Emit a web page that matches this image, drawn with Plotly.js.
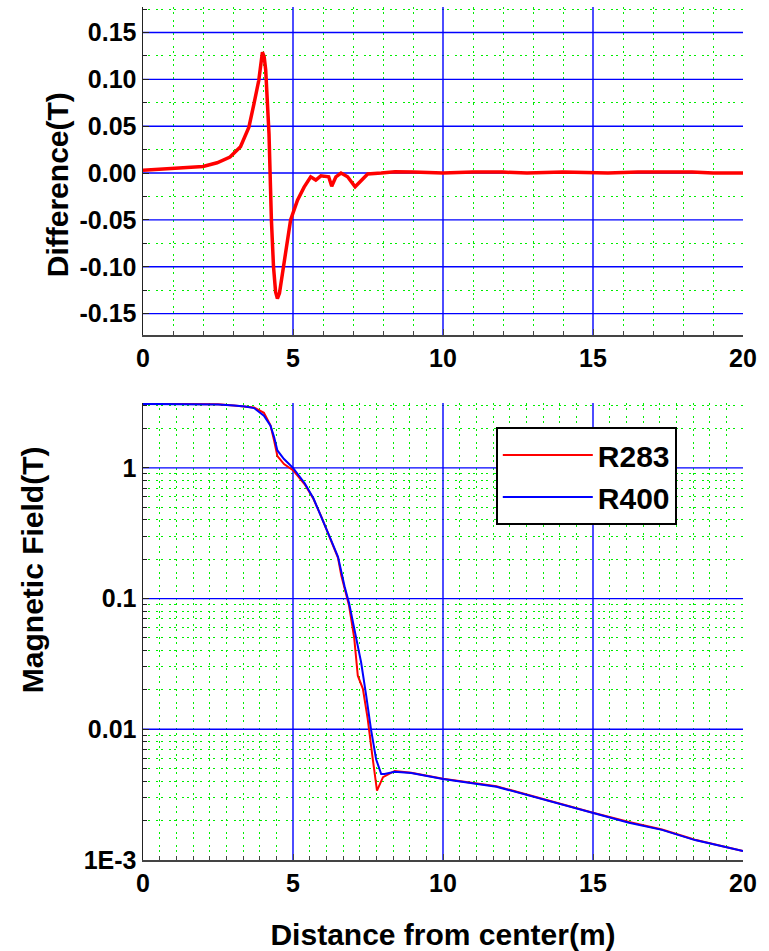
<!DOCTYPE html>
<html>
<head>
<meta charset="utf-8">
<script src="https://cdn.plot.ly/plotly-3.0.1.min.js"></script>
<style>
html,body{margin:0;padding:0;background:#fff;}
#chart{width:769px;height:951px;}
#chart .gridlayer path:not(.minor) { shape-rendering: geometricPrecision !important; }
#chart .gridlayer path.minor { shape-rendering: crispEdges !important; }
</style>
</head>
<body>
<div id="chart"></div>
<script>
// ---- Top panel: difference (T) vs distance (m)
const diffX = [0, 0.5, 1.0, 1.5, 2.0, 2.47, 2.9, 3.25, 3.53, 3.70, 3.86, 3.98, 4.04, 4.09, 4.2, 4.28, 4.35, 4.42, 4.48, 4.55, 4.70, 4.92, 5.15, 5.37, 5.59, 5.76, 5.93, 6.19, 6.29, 6.43, 6.6, 6.82, 7.07, 7.27, 7.49, 7.94, 8.4, 9, 10, 11, 12, 12.8, 14, 15.5, 16.5, 17.5, 18.3, 19, 20];
const diffY = [0.003, 0.004, 0.005, 0.0055, 0.007, 0.011, 0.017, 0.028, 0.049, 0.074, 0.099, 0.129, 0.124, 0.110, 0.042, -0.050, -0.100, -0.127, -0.134, -0.128, -0.096, -0.050, -0.029, -0.015, -0.004, -0.0075, -0.003, -0.004, -0.014, -0.004, 0.000, -0.004, -0.0146, -0.0075, -0.001, 0.000, 0.0014, 0.001, 0.000, 0.001, 0.001, 0.000, 0.001, 0.000, 0.001, 0.001, 0.001, 0.000, 0.000];

// ---- Bottom panel: magnetic field (T) vs distance (m)
const r400X = [0, 1, 2, 2.5, 3.03, 3.4, 3.7, 4.03, 4.25, 4.37, 4.48, 4.7, 5.0, 5.39, 5.68, 5.95, 6.22, 6.5, 6.61, 6.72, 6.87, 7.10, 7.27, 7.44, 7.6, 7.77, 7.94, 8.05, 8.39, 8.94, 10.0, 11.78, 12.9, 14.0, 15.0, 16.2, 17.3, 18.4, 20];
const r400Y = [3.09, 3.09, 3.08, 3.06, 3.0, 2.95, 2.87, 2.51, 2.1, 1.72, 1.36, 1.17, 1.0, 0.764, 0.586, 0.424, 0.298, 0.209, 0.156, 0.124, 0.092, 0.049, 0.0326, 0.0181, 0.010, 0.0059, 0.00455, 0.00455, 0.00473, 0.00463, 0.00417, 0.00364, 0.00309, 0.00264, 0.0023, 0.00193, 0.0017, 0.00142, 0.00117];

const r283X = [0, 1, 2, 2.5, 3.03, 3.4, 3.7, 4.03, 4.25, 4.37, 4.48, 4.7, 5.0, 5.39, 5.68, 5.95, 6.22, 6.5, 6.61, 6.72, 6.87, 7.04, 7.16, 7.33, 7.49, 7.66, 7.8, 8.0, 8.39, 8.94, 10.0, 11.78, 12.9, 14.0, 15.0, 16.2, 17.3, 18.4, 20];
const r283Y = [3.1, 3.1, 3.1, 3.07, 3.0, 2.96, 2.9, 2.64, 2.12, 1.62, 1.23, 1.07, 0.96, 0.75, 0.58, 0.42, 0.295, 0.205, 0.15, 0.12, 0.088, 0.05, 0.0257, 0.0204, 0.012, 0.0059, 0.0034, 0.0043, 0.0048, 0.00465, 0.00418, 0.00367, 0.0031, 0.00266, 0.0023, 0.00195, 0.00171, 0.00143, 0.00117];

// ---- tick labels
const xTickVals = [0, 5, 10, 15, 20];
const xTickText = ['0', '5', '10', '15', '20'];
const diffTickVals = [-0.15, -0.10, -0.05, 0.00, 0.05, 0.10, 0.15];
const diffTickText = ['-0.15', '-0.10', '-0.05', '0.00', '0.05', '0.10', '0.15'];
const fieldTickVals = [0.001, 0.01, 0.1, 1];
const fieldTickText = ['1E-3', '0.01', '0.1', '1'];

// ---- minor tick positions (axis configuration, skipping major positions)
function linMinor(lo, hi, nSub, majorStep) {
  const out = [];
  for (let m = lo; m < hi - 1e-9; m += majorStep) {
    for (let k = 1; k < nSub; k++) out.push(+(m + k * majorStep / nSub).toFixed(6));
  }
  return out;
}
const x1Minor = linMinor(0, 20, 5, 5);
const x2Minor = linMinor(0, 20, 9, 5);
const y1Minor = linMinor(-0.2, 0.2, 2, 0.05);
const y2Minor = [];
[0.001, 0.01, 0.1, 1].forEach(d => { for (let k = 2; k <= 9; k++) y2Minor.push(+(k * d).toPrecision(3)); });

const FONT = 'Liberation Sans, Arial, sans-serif';
const BLUE = '#0000ff';
const GREEN = '#00ee00';

const tickFont = {family: FONT, size: 25, color: '#000', weight: 'bold'};
const titleFont = {family: FONT, size: 30, color: '#000', weight: 'bold'};

function minorCfg(vals, col) {
  return {tickmode: 'array', tickvals: vals, ticks: 'inside', ticklen: 4, tickcolor: col,
          showgrid: true, gridcolor: GREEN, griddash: '2px,3px,2px,6px', gridwidth: 1};
}

function xAxisBase(minorVals) {
  return {
    range: [0, 20], showline: true, linecolor: '#444', linewidth: 2,
    tickmode: 'array', tickvals: xTickVals, ticktext: xTickText,
    ticks: 'inside', ticklen: 6, tickcolor: '#444',
    showgrid: true, gridcolor: BLUE, gridwidth: 1.4, zeroline: false,
    tickfont: tickFont,
    minor: minorCfg(minorVals, '#444')
  };
}

const traces = [
  {x: diffX, y: diffY, xaxis: 'x', yaxis: 'y', mode: 'lines', showlegend: false,
   line: {color: '#ff0000', width: 3.5}},
  {x: r283X, y: r283Y, xaxis: 'x2', yaxis: 'y2', mode: 'lines', name: 'R283',
   line: {color: '#ff0000', width: 2}},
  {x: r400X, y: r400Y, xaxis: 'x2', yaxis: 'y2', mode: 'lines', name: 'R400',
   line: {color: BLUE, width: 2}}
];

const xa1 = xAxisBase(x1Minor);
xa1.anchor = 'y';
const xa2 = xAxisBase(x2Minor);
xa2.anchor = 'y2';
xa2.title = {text: 'Distance from center(m)', font: titleFont, standoff: 38};

const layout = {
  width: 769, height: 951,
  margin: {l: 143, r: 26, t: 7, b: 91},
  paper_bgcolor: '#fff', plot_bgcolor: '#fff',
  font: {family: FONT},
  xaxis: xa1,
  yaxis: {
    domain: [0.6155, 1], anchor: 'x', range: [-0.1728, 0.1772],
    showline: true, linecolor: '#222', linewidth: 1.5,
    tickmode: 'array', tickvals: diffTickVals, ticktext: diffTickText,
    ticks: 'inside', ticklen: 6, tickcolor: '#222',
    showgrid: true, gridcolor: BLUE, gridwidth: 1.4, zeroline: false,
    tickfont: tickFont,
    minor: minorCfg(y1Minor, '#222')
  },
  xaxis2: xa2,
  yaxis2: {
    domain: [0, 0.5358], anchor: 'x2', type: 'log', range: [-3, 0.497],
    showline: true, linecolor: '#222', linewidth: 1.5,
    tickmode: 'array', tickvals: fieldTickVals, ticktext: fieldTickText,
    ticks: 'inside', ticklen: 6, tickcolor: '#222',
    showgrid: true, gridcolor: BLUE, gridwidth: 1.4, zeroline: false,
    tickfont: tickFont,
    minor: minorCfg(y2Minor, '#222')
  },
  annotations: [
    {text: 'Difference(T)', xref: 'paper', yref: 'paper', x: -0.143, y: 0.7913,
     xanchor: 'center', yanchor: 'middle', textangle: -90, showarrow: false, font: titleFont},
    {text: 'Magnetic Field(T)', xref: 'paper', yref: 'paper', x: -0.183, y: 0.34,
     xanchor: 'center', yanchor: 'middle', textangle: -90, showarrow: false, font: titleFont}
  ],
  legend: {
    x: 0.588, y: 0.5076, xanchor: 'left', yanchor: 'top',
    bgcolor: '#fff', bordercolor: '#000', borderwidth: 2,
    font: {family: FONT, size: 30, color: '#000', weight: 'bold'},
    itemwidth: 90, tracegroupgap: 0
  }
};

Plotly.newPlot('chart', traces, layout, {displayModeBar: false, staticPlot: true});
</script>
</body>
</html>
